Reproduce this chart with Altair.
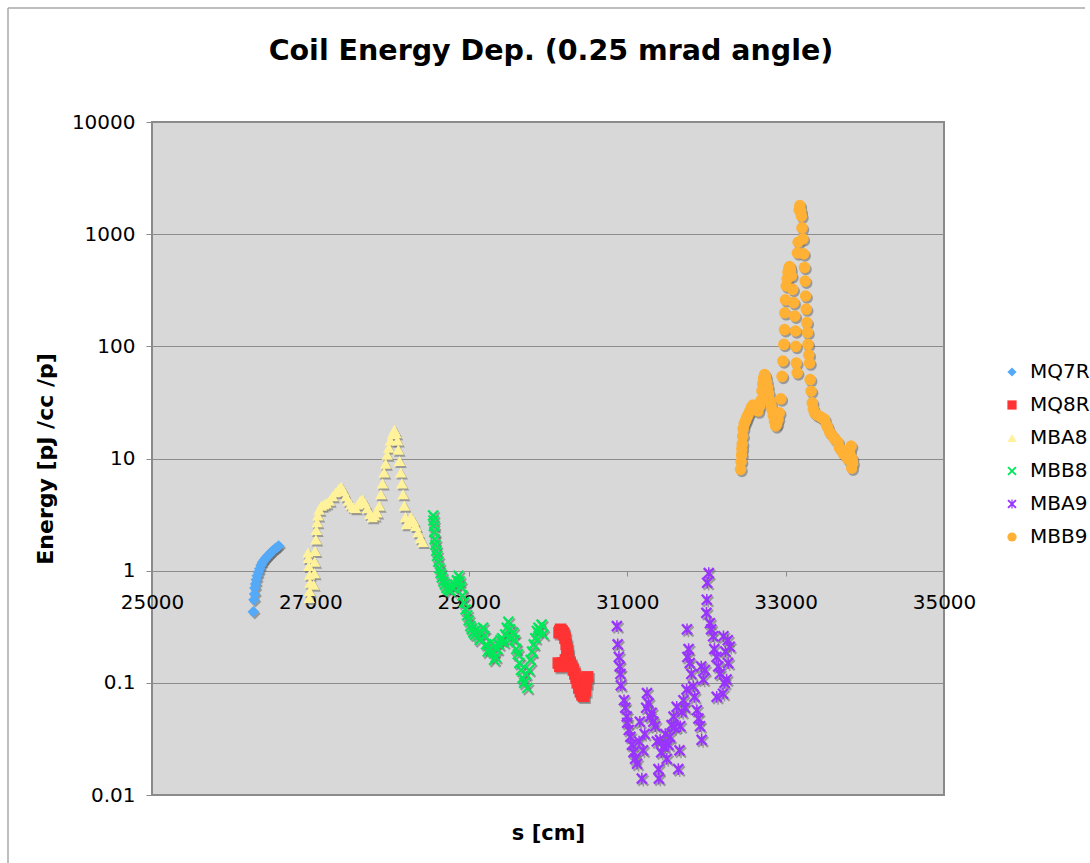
import altair as alt
import pandas as pd

# ---------------- data ----------------
series_names = ["MQ7R", "MQ8R", "MBA8", "MBB8", "MBA9", "MBB9"]
series_colors = ["#55aaf8", "#ff3333", "#fff29a", "#00e85a", "#9933ff", "#ffb135"]

mq7r_s = [26280, 26288, 26296, 26300, 26308, 26318, 26330, 26345, 26360, 26378, 26395,
          26415, 26435, 26455, 26478, 26500, 26525, 26550, 26575, 26600]
mq7r_e = [0.43, 0.55, 0.62, 0.70, 0.76, 0.83, 0.90, 0.97, 1.04, 1.12, 1.18,
          1.24, 1.29, 1.34, 1.39, 1.45, 1.50, 1.56, 1.61, 1.66]

mq8r_s = [30140, 30150, 30160, 30175, 30190, 30200, 30215, 30230, 30240, 30250,
          30130, 30150, 30165, 30180, 30200, 30220, 30240, 30260, 30280, 30300,
          30320, 30340, 30355, 30370, 30390, 30410, 30430, 30450, 30470, 30485, 30500]
mq8r_e = [0.28, 0.29, 0.30, 0.29, 0.28, 0.27, 0.25, 0.22, 0.20, 0.18,
          0.15, 0.14, 0.145, 0.15, 0.15, 0.16, 0.17, 0.16, 0.15, 0.14,
          0.13, 0.12, 0.11, 0.10, 0.09, 0.083, 0.078, 0.076, 0.085, 0.10, 0.113]

mba8_s = [26985, 26990, 26995, 26990, 26980, 26975, 26970,
          27040, 27050, 27055, 27060, 27070, 27075, 27085, 27095, 27110, 27140, 27170,
          27200, 27240, 27280, 27320, 27360, 27390, 27420, 27450, 27480, 27510, 27540,
          27570, 27600, 27630, 27660, 27690, 27720, 27750, 27780, 27810, 27840, 27870,
          27890, 27910, 27930, 27950, 27970, 27990, 28010, 28035, 28060, 28080, 28100,
          28110, 28125, 28140, 28155, 28170, 28185, 28200, 28215, 28240, 28270, 28300,
          28330, 28360, 28390, 28420]
mba8_e = [0.57, 0.66, 0.78, 0.92, 1.10, 1.30, 1.45,
          0.75, 0.95, 1.2, 1.5, 1.9, 2.3, 2.7, 3.1, 3.5, 3.8, 3.9,
          4.0, 4.2, 4.6, 5.0, 5.4, 5.6, 5.1, 4.6, 4.2, 3.9, 3.7,
          3.6, 3.9, 4.2, 4.3, 4.0, 3.6, 3.2, 3.0, 3.1, 3.3, 3.8,
          4.8, 6.0, 7.5, 9.0, 10.8, 12.5, 14.5, 16.5, 18.0, 16.8, 14.5,
          12.0, 9.5, 7.5, 6.0, 4.8, 3.8, 3.0, 2.6, 2.7, 3.0, 2.8,
          2.5, 2.2, 1.95, 1.8]

mbb8_s = [28550, 28555, 28560, 28565, 28570, 28580, 28590, 28600, 28615, 28630, 28645,
          28660, 28680, 28700, 28720, 28745, 28770, 28800, 28830, 28850, 28870, 28885,
          28900, 28920, 28940, 28960, 28980, 29000, 29020, 29040, 29060, 29080, 29100,
          29120, 29140, 29160, 29180, 29200, 29220, 29240, 29260, 29280, 29300, 29320,
          29340, 29360, 29380, 29400, 29420, 29440, 29460, 29480, 29500, 29520, 29540,
          29560, 29580, 29600, 29620, 29640, 29660, 29680, 29700, 29720, 29740, 29760,
          29780, 29800, 29820, 29840, 29860, 29880, 29900, 29920, 29940]
mbb8_e = [3.1, 2.8, 2.5, 2.2, 1.9, 1.7, 1.5, 1.35, 1.2, 1.05, 0.95,
          0.87, 0.80, 0.75, 0.70, 0.68, 0.66, 0.70, 0.75, 0.82, 0.90, 0.80,
          0.72, 0.60, 0.52, 0.45, 0.40, 0.36, 0.32, 0.30, 0.28, 0.27, 0.30,
          0.26, 0.24, 0.28, 0.31, 0.26, 0.22, 0.19, 0.20, 0.23, 0.19, 0.16,
          0.17, 0.20, 0.22, 0.24, 0.25, 0.23, 0.27, 0.31, 0.35, 0.30, 0.25,
          0.28, 0.24, 0.20, 0.18, 0.15, 0.13, 0.11, 0.10, 0.12, 0.09, 0.13,
          0.16, 0.19, 0.22, 0.25, 0.29, 0.31, 0.30, 0.33, 0.27]

mba9_s = [30870, 30880, 30895, 30905, 30915, 30920, 30960, 30975, 30995, 31000, 31020,
          31040, 31060, 31080, 31100, 31125, 31150, 31160, 31185, 31200, 31220, 31240,
          31250, 31270, 31290, 31310, 31330, 31355, 31375, 31395, 31400, 31415, 31430,
          31460, 31480, 31500, 31520, 31540, 31560, 31585, 31600, 31625, 31645, 31660,
          31670, 31690, 31710, 31730, 31750, 31755, 31760, 31775, 31790, 31810, 31835,
          31850, 31880, 31900, 31920, 31940, 31935, 31960, 31980, 32000, 32005, 32010,
          32030, 32045, 32060, 32085, 32100, 32128, 32150, 32170, 32130, 32210, 32230,
          32255, 32275, 32295, 32215, 32240, 32270]
mba9_e = [0.32, 0.22, 0.17, 0.14, 0.12, 0.095, 0.070, 0.060, 0.050, 0.044, 0.038,
          0.033, 0.028, 0.024, 0.021, 0.019, 0.030, 0.045, 0.014, 0.025, 0.035, 0.060,
          0.081, 0.066, 0.050, 0.054, 0.045, 0.041, 0.030, 0.017, 0.014, 0.031, 0.024,
          0.027, 0.035, 0.021, 0.028, 0.033, 0.042, 0.050, 0.040, 0.061, 0.017, 0.025,
          0.041, 0.055, 0.070, 0.060, 0.087, 0.30, 0.17, 0.20, 0.15, 0.12, 0.093,
          0.075, 0.057, 0.048, 0.041, 0.031, 0.14, 0.107, 0.13, 0.42, 0.55, 0.78,
          0.95, 0.34, 0.30, 0.26, 0.20, 0.17, 0.14, 0.12, 0.075, 0.080, 0.10,
          0.107, 0.15, 0.21, 0.26, 0.19, 0.24]

mbb9_s = [32431, 32438, 32444, 32448, 32452, 32458, 32464, 32478, 32495, 32507, 32525,
          32548, 32568, 32590, 32612, 32632, 32652, 32672, 32690, 32702, 32712, 32722,
          32735, 32748, 32760, 32772, 32785, 32800, 32815, 32830, 32845, 32860, 32875,
          32890, 32905, 32920, 32940, 32955, 32965, 32978, 32986, 32990, 32998, 33008,
          33020, 33030, 33042, 33051, 33062, 33073, 33090, 33102, 33116, 33125, 33128,
          33135, 33146, 33150, 33158, 33172, 33180, 33192, 33200, 33207, 33218, 33227,
          33238, 33247, 33253, 33260, 33268, 33276, 33282, 33293, 33302, 33310, 33322,
          33336, 33350, 33366, 33395, 33429, 33460, 33492, 33515, 33533, 33560, 33596,
          33625, 33659, 33680, 33702, 33730, 33764, 33790, 33810, 33827, 33840, 33847, 33835]
mbb9_e = [8.0, 9.4, 10.8, 12.2, 13.5, 15.8, 18.5, 20.5, 21.8, 23.0, 24.5,
          26.5, 28.5, 30.0, 29.0, 27.5, 26.5, 29.5, 33.0, 40.0, 46.0, 52.0,
          56.0, 53.0, 48.0, 43.0, 38.0, 33.0, 30.0, 27.0, 24.0, 21.5, 19.5,
          20.5, 22.5, 25.5, 34.0, 54.0, 74.0, 104.0, 141.0, 199.0, 260.0, 345.0,
          400.0, 458.0, 500.0, 515.0, 480.0, 425.0, 322.0, 245.0, 186.0, 137.0, 100.0,
          71.0, 58.0, 680.0, 847.0, 1650.0, 1800.0, 1600.0, 1450.0, 1140.0, 907.0, 667.0,
          505.0, 381.0, 281.0, 215.0, 163.0, 133.0, 104.0, 84.0, 71.0, 50.6, 39.8,
          31.3, 27.5, 25.6, 24.5, 23.8, 23.0, 22.3, 20.0, 18.8, 17.0, 15.8,
          14.8, 14.0, 12.5, 12.0, 11.0, 10.5, 9.8, 11.5, 12.9, 10.0, 9.1, 8.2]

x_ticks = [25000, 27000, 29000, 31000, 33000, 35000]
y_ticks = [0.01, 0.1, 1, 10, 100, 1000, 10000]
chart_title = "Coil Energy Dep. (0.25 mrad angle)"

# ---------------- table ----------------
parts = [("MQ7R", mq7r_s, mq7r_e), ("MQ8R", mq8r_s, mq8r_e), ("MBA8", mba8_s, mba8_e),
         ("MBB8", mbb8_s, mbb8_e), ("MBA9", mba9_s, mba9_e), ("MBB9", mbb9_s, mbb9_e)]
rows = []
for name, ss, ee in parts:
    for s, e in zip(ss, ee):
        rows.append({"s": s, "E": e, "series": name})
df = pd.DataFrame(rows)

X_PATH = "M-1,-0.72L-0.72,-1L0,-0.28L0.72,-1L1,-0.72L0.28,0L1,0.72L0.72,1L0,0.28L-0.72,1L-1,0.72L-0.28,0Z"
STAR_PATH = X_PATH + "M-0.13,-1L0.13,-1L0.13,1L-0.13,1Z"
series_shapes = ["diamond", "square", "triangle-up", X_PATH, STAR_PATH, "circle"]

GRID = "#8c8c8c"
FONT = "DejaVu Sans"
MSIZE = 135

x_enc = alt.X("s:Q", scale=alt.Scale(domain=[25000, 35000], nice=False, zero=False),
              axis=alt.Axis(values=x_ticks, format="d", title="s [cm]", offset=-224,
                            grid=False, domain=False, tickColor=GRID, tickSize=5,
                            labelPadding=16, labelFlush=False, labelFontSize=20,
                            titleFontSize=21, titleFontWeight="bold",
                            titleY=262, titleBaseline="middle"))
y_enc = alt.Y("E:Q", scale=alt.Scale(type="log", domain=[0.01, 10000], nice=False),
              axis=alt.Axis(values=y_ticks, format="~g", title="Energy [pJ /cc /p]",
                            grid=True, gridColor=GRID, gridWidth=1, domain=False,
                            tickColor=GRID, tickSize=6, labelPadding=11, labelFlush=False,
                            labelFontSize=20, titleFontSize=22, titleFontWeight="bold",
                            titleX=-107, titleBaseline="middle"))

shape_scale = alt.Scale(domain=series_names, range=series_shapes)
color_scale = alt.Scale(domain=series_names, range=series_colors)

legend = alt.Legend(title=None, orient="none", legendX=850, legendY=240,
                    labelFontSize=20, labelFont=FONT, labelColor="black",
                    symbolSize=85, rowPadding=13, labelOffset=8, padding=0)

# drop shadows, one layer per marker shape (no shape channel -> no legend)
shadow_layers = []
for name, shp in zip(series_names, series_shapes):
    shadow_layers.append(
        alt.Chart(df).transform_filter(alt.datum.series == name).mark_point(
            filled=True, size=MSIZE, shape=shp, color="#666666", opacity=0.55,
            xOffset=1.5, yOffset=2).encode(x=x_enc, y=y_enc))

points = alt.Chart(df).mark_point(filled=True, size=MSIZE, opacity=1).encode(
    x=x_enc, y=y_enc,
    color=alt.Color("series:N", scale=color_scale, legend=legend),
    shape=alt.Shape("series:N", scale=shape_scale, legend=legend))

frame_df = pd.DataFrame({"title": [chart_title]})
top_border = alt.Chart(frame_df).mark_rule(color="#a8a8a8", strokeWidth=1.5).encode(
    x=alt.value(-144), x2=alt.value(933), y=alt.value(-114))
left_border = alt.Chart(frame_df).mark_rule(color="#a8a8a8", strokeWidth=1.5).encode(
    x=alt.value(-144), y=alt.value(-114), y2=alt.value(741))
title_text = alt.Chart(frame_df).mark_text(
    font=FONT, fontSize=28.5, fontWeight="bold", color="black",
    align="center", baseline="middle").encode(
    text="title:N", x=alt.value(399), y=alt.value(-71))

chart = alt.layer(top_border, left_border, title_text, *shadow_layers, points).properties(
    width=792, height=673,
    padding={"left": 7, "top": 7, "right": 0, "bottom": 0},
).configure_view(
    fill="#d8d8d8", stroke="#8a8a8a", strokeWidth=2
).configure_axis(
    labelFont=FONT, titleFont=FONT, labelColor="black", titleColor="black"
)

chart.save("out.html", embed_options={"renderer": "svg", "actions": False})
